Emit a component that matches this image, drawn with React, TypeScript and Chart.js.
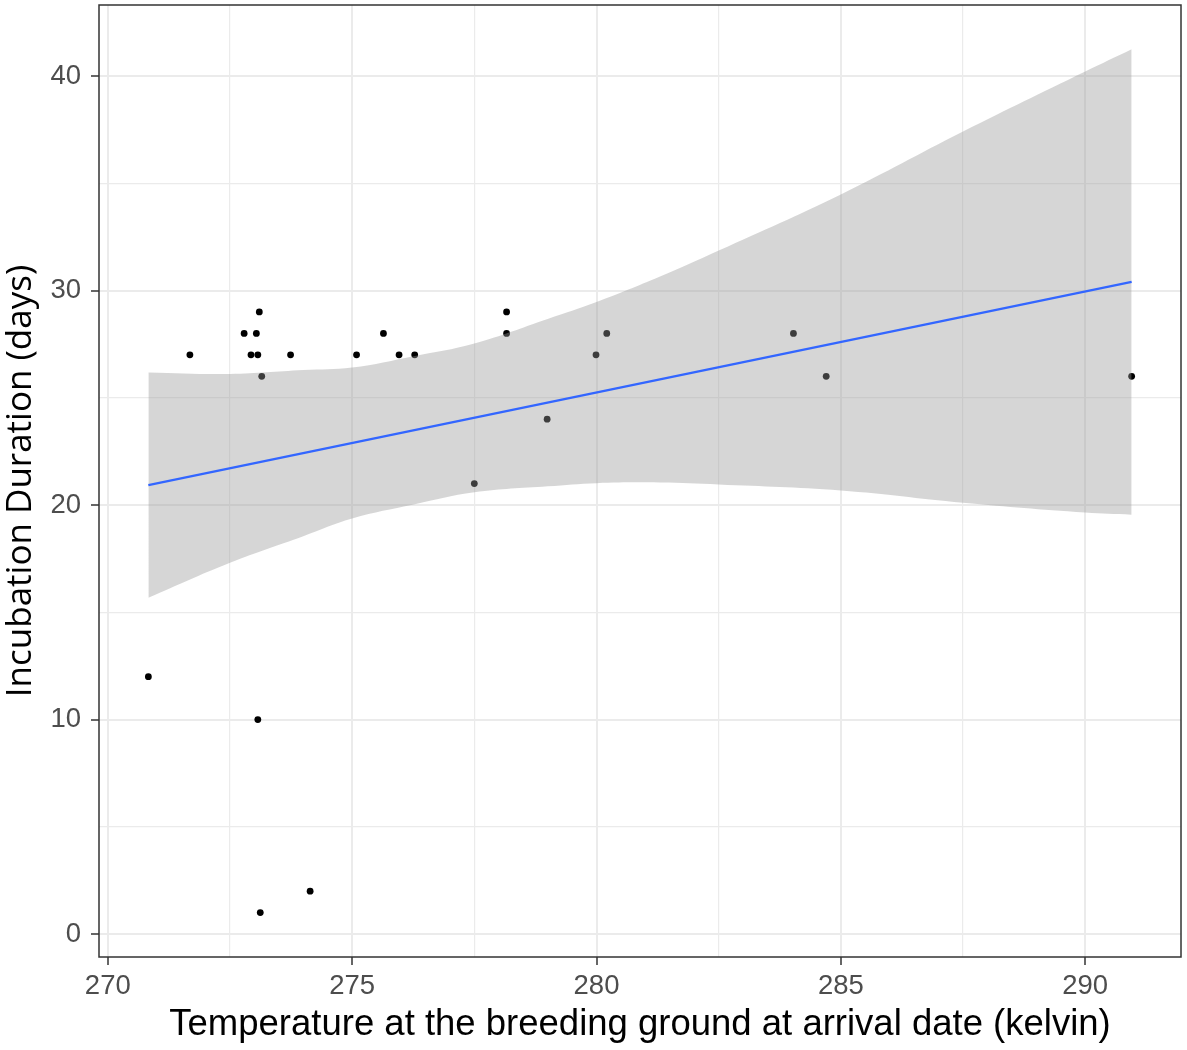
import { Chart, registerables, type Plugin } from "chart.js";
import { useEffect, useRef } from "react";

Chart.register(...registerables);

// observed points
const tempK = [
  270.83, 271.68, 272.79, 272.93, 273.04, 273.07, 273.07, 273.1, 273.12, 273.15, 273.74, 274.14,
  275.09, 275.64, 275.96, 276.28, 277.5, 278.16, 278.16, 278.99, 279.99, 280.21, 284.03, 284.7,
  290.95,
];
const days = [12, 27, 28, 27, 28, 27, 10, 29, 1, 26, 27, 2, 27, 28, 27, 27, 21, 29, 28, 24, 27, 28, 28, 26, 26];

// linear fit
const fitX = [270.83, 290.95];
const fitY = [20.93, 30.4];

// confidence band edges
const bandX = [270.83, 272.5, 274, 275, 276.26, 277.5, 279, 280, 281.3, 282.5, 285, 287.5, 290, 290.95];
const bandUpper = [26.18, 26.11, 26.29, 26.41, 26.94, 27.53, 28.67, 29.46, 30.65, 31.86, 34.48, 37.41, 40.21, 41.25];
const bandLower = [15.68, 17.31, 18.55, 19.37, 20.02, 20.59, 20.87, 21.02, 21.05, 20.96, 20.68, 20.11, 19.65, 19.55];

const xTicks = [270, 272.5, 275, 277.5, 280, 282.5, 285, 287.5, 290];
const yTicks = [0, 5, 10, 15, 20, 25, 30, 35, 40];

const toPoints = (xs: number[], ys: number[]) => xs.map((x, i) => ({ x, y: ys[i] }));

const SANS = "'Liberation Sans', Arial, sans-serif";
const GRID = "#EBEBEB";
const DARK = "#333333";

/** ggplot-style panel border drawn over the data. */
const panelBorder: Plugin = {
  id: "panelBorder",
  afterDatasetsDraw(chart) {
    const { ctx, chartArea: a } = chart;
    ctx.save();
    ctx.strokeStyle = DARK;
    ctx.lineWidth = 1.5;
    ctx.strokeRect(a.left, a.top, a.right - a.left, a.bottom - a.top);
    ctx.restore();
  },
};

function gridFor(step: number) {
  const major = (v: number | undefined) => v !== undefined && Math.abs(v % step) < 1e-9;
  return {
    color: GRID,
    lineWidth: (c: any) => (major(c.tick?.value) ? 2 : 1.2),
    tickColor: (c: any) => (major(c.tick?.value) ? DARK : "rgba(0,0,0,0)"),
    tickWidth: 1.5,
    tickLength: 8,
  };
}

export default function App() {
  const canvasRef = useRef<HTMLCanvasElement>(null);

  useEffect(() => {
    const canvas = canvasRef.current;
    if (!canvas) return;
    const chart = new Chart(canvas, {
      type: "scatter",
      data: {
        datasets: [
          {
            label: "fit",
            data: toPoints(fitX, fitY),
            showLine: true,
            borderColor: "#3366FF",
            borderWidth: 2.2,
            pointRadius: 0,
            order: 0,
          },
          {
            label: "upper",
            data: toPoints(bandX, bandUpper),
            showLine: true,
            borderWidth: 0,
            borderColor: "rgba(0,0,0,0)",
            backgroundColor: "rgba(153,153,153,0.4)",
            fill: "+1",
            tension: 0.4,
            pointRadius: 0,
            order: 1,
          },
          {
            label: "lower",
            data: toPoints(bandX, bandLower),
            showLine: true,
            borderWidth: 0,
            borderColor: "rgba(0,0,0,0)",
            tension: 0.4,
            pointRadius: 0,
            order: 1,
          },
          {
            label: "points",
            data: toPoints(tempK, days),
            backgroundColor: "#000000",
            borderWidth: 0,
            pointRadius: 3.4,
            order: 2,
          },
        ],
      },
      options: {
        animation: false,
        responsive: true,
        maintainAspectRatio: false,
        layout: { padding: { top: 5, right: 6, left: 0, bottom: 0 } },
        plugins: { legend: { display: false }, tooltip: { enabled: false } },
        scales: {
          x: {
            type: "linear",
            min: 269.82,
            max: 291.96,
            afterBuildTicks: (scale) => {
              scale.ticks = xTicks.map((value) => ({ value }));
            },
            afterFit: (scale: any) => {
              scale.height = 93;
              scale.paddingLeft = 0;
              scale.paddingRight = 0;
            },
            grid: gridFor(5),
            border: { display: false },
            ticks: {
              color: "#4D4D4D",
              font: { family: SANS, size: 27.5 },
              padding: 5,
              maxRotation: 0,
              autoSkip: false,
              callback: (v) => (Number(v) % 5 === 0 ? String(v) : ""),
            },
            title: {
              display: true,
              text: "Temperature at the breeding ground at arrival date (kelvin)",
              color: "#000000",
              font: { family: SANS, size: 36.5 },
              padding: { top: 0, bottom: 3 },
            },
          },
          y: {
            type: "linear",
            min: -1.07,
            max: 43.31,
            afterBuildTicks: (scale) => {
              scale.ticks = yTicks.map((value) => ({ value }));
            },
            afterFit: (scale: any) => {
              scale.width = 99;
              scale.paddingTop = 0;
              scale.paddingBottom = 0;
            },
            grid: gridFor(10),
            border: { display: false },
            ticks: {
              color: "#4D4D4D",
              font: { family: SANS, size: 27.5 },
              padding: 10,
              autoSkip: false,
              callback: (v) => (Number(v) % 10 === 0 ? String(v) : ""),
            },
            title: {
              display: true,
              text: "Incubation Duration (days)",
              color: "#000000",
              font: { family: "'Open Sans', 'Noto Sans', sans-serif", size: 35 },
              padding: { top: 0.5, bottom: 0 },
            },
          },
        },
      },
      plugins: [panelBorder],
    });
    return () => chart.destroy();
  }, []);

  return (
    <div style={{ position: "absolute", left: 0, top: 0, width: 1187, height: 1050, background: "#fff" }}>
      <canvas ref={canvasRef} role="img" aria-label="Incubation duration against arrival temperature" />
    </div>
  );
}
